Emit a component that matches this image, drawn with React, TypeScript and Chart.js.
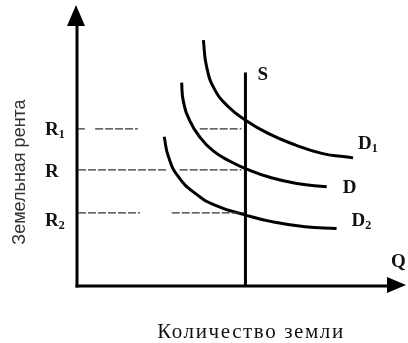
import React, { useEffect, useRef } from "react";
import { Chart, registerables } from "chart.js";

Chart.register(...registerables);

// ---- data (Q = quantity of land, R = land rent), arbitrary units 0..100 ----
const Q_MAX = 100;
const R_MAX = 100;

const rentBase = ["R", "R", "R"];
const rentSub = ["1", "", "2"];
const rentLevels = [55.9, 41.3, 26.0];

// dashed guide pieces, [from, to] along Q
const guideR1 = [[0.3, 2.4], [5.5, 18.5], [37.3, 50.0]];
const guideR = [[0.3, 27.3], [31.2, 50.0]];
const guideR2 = [[0.3, 19.1], [28.8, 50.9]];

const supplyQ = 51.2;
const supplyTop = 76.0;

const d1Q = [38.4, 39.4, 41.9, 46.0, 51.1, 58.1, 66.3, 74.4, 81.5, 83.9];
const d1R = [87.5, 78.0, 69.8, 63.8, 59.1, 54.3, 50.2, 47.2, 46.0, 45.6];

const dQ = [31.8, 32.3, 34.3, 37.4, 41.4, 46.5, 51.6, 58.6, 66.8, 75.9];
const dR = [72.4, 65.9, 58.8, 52.9, 48.1, 44.4, 41.6, 38.7, 36.5, 35.3];

const d2Q = [26.5, 27.8, 30.8, 35.9, 41.9, 51.1, 59.2, 69.3, 78.9];
const d2R = [53.1, 46.0, 38.9, 33.0, 28.8, 25.3, 22.9, 21.1, 20.5];

const curveBase = ["D", "D", "D"];
const curveSub = ["1", "", "2"];

const supplyLabel = "S";
const qLabel = "Q";
const xTitle = "Количество земли";
const yTitle = "Земельная рента";

const SERIF = '"Liberation Serif", "Times New Roman", serif';
const SANS = '"Liberation Sans", Arial, sans-serif';

function pts(qs: number[], rs: number[]) {
  return qs.map((q, i) => ({ x: q, y: rs[i] }));
}

function guide(pieces: number[][], level: number) {
  const out: { x: number; y: number | null }[] = [];
  pieces.forEach(([a, b]) => {
    out.push({ x: a, y: level }, { x: b, y: level }, { x: b, y: null });
  });
  return out;
}

function drawSub(ctx: CanvasRenderingContext2D, base: string, sub: string, x: number, cy: number, size: number) {
  ctx.textAlign = "left";
  ctx.textBaseline = "alphabetic";
  ctx.font = `bold ${size}px ${SERIF}`;
  const baseline = cy + size * 0.33;
  ctx.fillText(base, x, baseline);
  const w = ctx.measureText(base).width;
  if (sub) {
    ctx.font = `bold ${Math.round(size * 0.62)}px ${SERIF}`;
    ctx.fillText(sub, x + w, baseline + size * 0.16);
  }
}

const decorPlugin = {
  id: "decor",
  beforeDatasetsDraw(chart: any) {
    const ctx: CanvasRenderingContext2D = chart.ctx;
    const xs = chart.scales.x;
    const ys = chart.scales.y;
    const x0 = xs.getPixelForValue(0);
    const y0 = ys.getPixelForValue(0);
    const xTip = xs.getPixelForValue(Q_MAX);
    const yTip = ys.getPixelForValue(R_MAX);
    ctx.save();
    ctx.strokeStyle = "#000";
    ctx.fillStyle = "#000";
    ctx.lineWidth = 3;
    ctx.lineCap = "butt";
    // y axis
    ctx.beginPath();
    ctx.moveTo(x0, y0 + 1.5);
    ctx.lineTo(x0, yTip + 12);
    ctx.stroke();
    ctx.beginPath();
    ctx.moveTo(x0 - 1, yTip);
    ctx.lineTo(x0 - 10, yTip + 21);
    ctx.lineTo(x0 + 8, yTip + 21);
    ctx.closePath();
    ctx.fill();
    // x axis
    ctx.beginPath();
    ctx.moveTo(x0 - 1.5, y0);
    ctx.lineTo(xTip - 12, y0);
    ctx.stroke();
    ctx.beginPath();
    ctx.moveTo(xTip, y0 - 1);
    ctx.lineTo(xTip - 19, y0 - 9);
    ctx.lineTo(xTip - 19, y0 + 7);
    ctx.closePath();
    ctx.fill();
    ctx.restore();
  },
  afterDatasetsDraw(chart: any) {
    const ctx: CanvasRenderingContext2D = chart.ctx;
    const xs = chart.scales.x;
    const ys = chart.scales.y;
    const x0 = xs.getPixelForValue(0);
    const y0 = ys.getPixelForValue(0);
    const xTip = xs.getPixelForValue(Q_MAX);
    ctx.save();
    ctx.fillStyle = "#111";
    // rent labels
    const rentDy = [0, 1, 7];
    rentLevels.forEach((lv, i) => {
      drawSub(ctx, rentBase[i], rentSub[i], x0 - 32, ys.getPixelForValue(lv) + rentDy[i], 19);
    });
    // S label
    drawSub(ctx, supplyLabel, "", xs.getPixelForValue(supplyQ) + 12, ys.getPixelForValue(supplyTop) + 1, 19);
    // D labels at curve ends
    const ends = [
      [d1Q[d1Q.length - 1], d1R[d1R.length - 1]],
      [dQ[dQ.length - 1], dR[dR.length - 1]],
      [d2Q[d2Q.length - 1], d2R[d2R.length - 1]],
    ];
    const offs = [[5, -15], [16, 0], [15, -9]];
    ends.forEach(([q, r], i) => {
      drawSub(ctx, curveBase[i], curveSub[i], xs.getPixelForValue(q) + offs[i][0], ys.getPixelForValue(r) + offs[i][1], 19);
    });
    // Q label
    drawSub(ctx, qLabel, "", xTip - 15, y0 - 25, 19);
    // x title
    ctx.font = `21px ${SERIF}`;
    (ctx as any).letterSpacing = "1.6px";
    ctx.textAlign = "center";
    ctx.textBaseline = "alphabetic";
    ctx.fillStyle = "#111";
    ctx.fillText(xTitle, 251, y0 + 52);
    (ctx as any).letterSpacing = "0px";
    // y title
    ctx.save();
    ctx.translate(x0 - 57, 172);
    ctx.rotate(-Math.PI / 2);
    ctx.font = `18px ${SANS}`;
    ctx.fillStyle = "#333";
    ctx.textAlign = "center";
    ctx.textBaseline = "middle";
    ctx.fillText(yTitle, 0, 0);
    ctx.restore();
    ctx.restore();
  },
};

export default function App() {
  const ref = useRef<HTMLCanvasElement | null>(null);
  useEffect(() => {
    if (!ref.current) return;
    const curve = (data: any[]) => ({
      data,
      borderColor: "#000",
      borderWidth: 3,
      pointRadius: 0,
      tension: 0.5,
      fill: false,
      clip: false as any,
    });
    const dash = (data: any[]) => ({
      data,
      borderColor: "#333",
      borderWidth: 1.2,
      borderDash: [8, 2],
      pointRadius: 0,
      spanGaps: false,
      fill: false,
      clip: false as any,
    });
    const chart = new Chart(ref.current, {
      type: "scatter",
      data: {
        datasets: [
          dash(guide(guideR1, rentLevels[0])),
          dash(guide(guideR, rentLevels[1])),
          dash(guide(guideR2, rentLevels[2])),
          { ...curve([{ x: supplyQ, y: 0 }, { x: supplyQ, y: supplyTop }]), tension: 0 },
          curve(pts(d1Q, d1R)),
          curve(pts(dQ, dR)),
          curve(pts(d2Q, d2R)),
        ].map((d: any) => ({ ...d, showLine: true })),
      },
      options: {
        responsive: false,
        animation: false,
        devicePixelRatio: 1,
        layout: { padding: { left: 77, right: 2, top: 5, bottom: 57 } },
        scales: {
          x: { type: "linear", min: 0, max: Q_MAX, display: false },
          y: { type: "linear", min: 0, max: R_MAX, display: false },
        },
        plugins: { legend: { display: false }, tooltip: { enabled: false } },
        events: [],
      },
      plugins: [decorPlugin],
    });
    return () => chart.destroy();
  }, []);
  return (
    <div style={{ position: "absolute", left: 0, top: 0, width: 408, height: 343, background: "#fff" }}>
      <canvas ref={ref} width={408} height={343} />
    </div>
  );
}
